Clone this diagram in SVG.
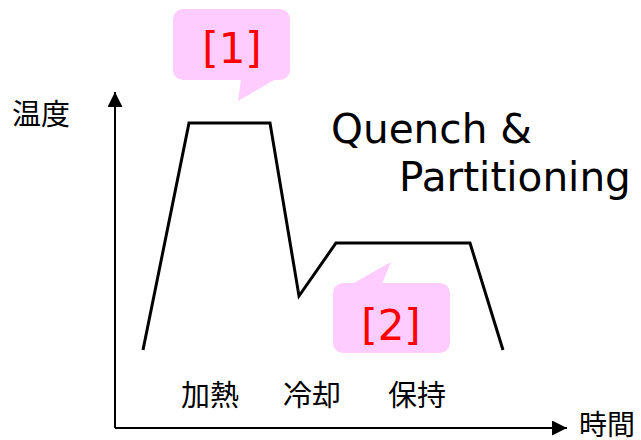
<svg xmlns="http://www.w3.org/2000/svg" width="641" height="440" viewBox="0 0 641 440">
<style>
.jp{font-family:"Noto Sans CJK JP","Noto Sans",sans-serif;font-size:29px;fill:#000}
.en{font-family:"DejaVu Sans",sans-serif;font-size:40.6px;fill:#000}
.num{font-family:"DejaVu Sans",sans-serif;font-size:42px;fill:#ff0000;text-anchor:middle}
.bubble{fill:#ffccff;stroke:none}
.axis{stroke:#000;stroke-width:2;fill:none}
</style>
<defs>
<marker id="ah" markerWidth="16" markerHeight="16" refX="15" refY="7.5" orient="auto" markerUnits="userSpaceOnUse">
<path d="M0,0 L15,7.5 L0,15 Z" fill="#000"/>
</marker>
</defs>
<rect width="641" height="440" fill="#fff"/>
<g id="connectors">
<path class="axis" d="M115,428 L115,92" marker-end="url(#ah)"/>
<path class="axis" d="M115,428 L567,428" marker-end="url(#ah)"/>
<polyline points="143,350 189,123 270,123 299,296 336,243 470,243 503,350" fill="none" stroke="#000" stroke-width="3" stroke-linejoin="miter"/>
</g>
<g id="callout1">
<rect class="bubble" x="173" y="9" width="117" height="71" rx="10"/>
<polygon class="bubble" points="241,79 238,101 276,79"/>
<text class="num" x="232" y="63">[1]</text>
</g>
<g id="callout2">
<rect class="bubble" x="333" y="283" width="117" height="70" rx="10"/>
<polygon class="bubble" points="352,284 391,262 382,284"/>
<text class="num" x="391" y="340">[2]</text>
</g>
<g id="title">
<text class="en" x="331" y="143">Quench &amp;</text>
<text class="en" x="399" y="191">Partitioning</text>
</g>
<g id="labels">
<text class="jp" x="12" y="125">温度</text>
<text class="jp" x="579" y="435" style="font-size:28px">時間</text>
<text class="jp" x="181" y="406">加熱</text>
<text class="jp" x="283" y="406">冷却</text>
<text class="jp" x="388" y="406">保持</text>
</g>
</svg>
